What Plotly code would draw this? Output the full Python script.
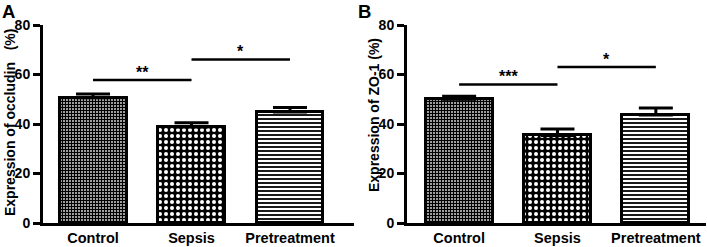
import plotly.graph_objects as go

categories = ["Control", "Sepsis", "Pretreatment"]
occludin_mean = [50.6, 38.8, 44.8]
occludin_err = [1.5, 1.7, 1.9]
zo1_mean = [50.0, 35.4, 43.6]
zo1_err = [1.2, 2.6, 2.9]
y_ticks = [0, 20, 40, 60, 80]
# (from category index, to category index, height, label)
sig_a = [(0, 1, 57.8, "**"), (1, 2, 66.1, "*")]
sig_b = [(0, 1, 56.0, "***"), (1, 2, 63.0, "*")]

W, H = 707, 247
FONT = "Liberation Sans"

pattern = dict(
    shape=["+", ".", "-"],
    fgcolor=["black", "white", "black"],
    bgcolor=["white", "black", "white"],
    size=[3, 6, 4],
    solidity=[0.7, 0.35, 0.45],
    fillmode="replace",
)

fig = go.Figure()
for means, errs, xa, ya in [(occludin_mean, occludin_err, "x", "y"),
                            (zo1_mean, zo1_err, "x2", "y2")]:
    fig.add_trace(go.Bar(
        x=categories, y=means, xaxis=xa, yaxis=ya, width=0.68,
        marker=dict(color="white", line=dict(color="black", width=3), pattern=pattern),
        error_y=dict(type="data", array=errs, arrayminus=[0] * len(errs),
                     symmetric=False, color="black", thickness=3, width=17),
        showlegend=False,
    ))

ydom = [24 / H, 222 / H]
axis_common = dict(showline=True, linewidth=3, linecolor="black", showgrid=False,
                   zeroline=False, automargin=False)
yaxis_common = dict(axis_common, range=[0, 80], tickvals=y_ticks, ticks="outside", ticklen=7,
                    tickwidth=2.5, tickcolor="black", domain=ydom,
                    tickfont=dict(family=FONT, size=14, color="black", weight="bold"))
xaxis_common = dict(axis_common, ticks="", type="category",
                    tickfont=dict(family=FONT, size=14.5, color="black", weight="bold"))

fig.update_layout(
    template="none",
    width=W, height=H, margin=dict(l=0, r=0, t=0, b=0, autoexpand=False),
    paper_bgcolor="white", plot_bgcolor="white",
    xaxis=dict(xaxis_common, domain=[43 / W, 354 / W], range=[-0.508, 2.65], anchor="y"),
    yaxis=dict(yaxis_common, anchor="x"),
    xaxis2=dict(xaxis_common, domain=[407 / W, 706 / W], range=[-0.53, 2.51], anchor="y2"),
    yaxis2=dict(yaxis_common, anchor="x2"),
    bargap=0,
)

shapes = []
annotations = []
for sig, xr, yr in [(sig_a, "x", "y"), (sig_b, "x2", "y2")]:
    for i, j, h, lab in sig:
        shapes.append(dict(type="line", xref=xr, yref=yr, x0=i, x1=j, y0=h, y1=h,
                           line=dict(color="black", width=2.5)))
        annotations.append(dict(xref=xr, yref=yr, x=(i + j) / 2, y=h, text=lab,
                                showarrow=False, xanchor="center", yanchor="bottom", yshift=-3,
                                font=dict(family=FONT, size=16, color="black", weight="bold")))

# panel letters
annotations.append(dict(xref="paper", yref="paper", x=0, y=1, xanchor="left", yanchor="top",
                        text="A", showarrow=False, yshift=1,
                        font=dict(family=FONT, size=18.5, color="black", weight="bold")))
annotations.append(dict(xref="paper", yref="paper", x=356 / W, y=1, xanchor="left", yanchor="top",
                        text="B", showarrow=False, yshift=1,
                        font=dict(family=FONT, size=18.5, color="black", weight="bold")))
# y titles
annotations.append(dict(xref="paper", yref="paper", x=10 / W, y=1 - 123 / H, textangle=-90,
                        xanchor="center", yanchor="middle",
                        text="Expression of occludin\u00a0\u00a0\u00a0(%)", showarrow=False,
                        font=dict(family=FONT, size=14, color="black", weight="bold")))
annotations.append(dict(xref="paper", yref="paper", x=374 / W, y=1 - 115 / H, textangle=-90,
                        xanchor="center", yanchor="middle",
                        text="Expression of ZO-1 (%)", showarrow=False,
                        font=dict(family=FONT, size=14, color="black", weight="bold")))

fig.update_layout(shapes=shapes, annotations=annotations)
fig.write_html(
    "out.html",
    config={"displayModeBar": False},
    post_script="document.body.style.margin='0';document.body.style.overflow='hidden';",
)
